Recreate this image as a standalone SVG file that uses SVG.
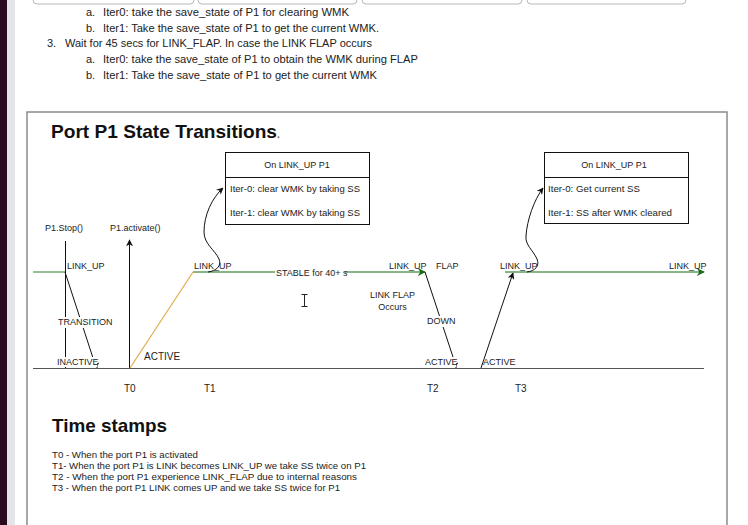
<svg xmlns="http://www.w3.org/2000/svg" width="748" height="525" viewBox="0 0 748 525">
<style>
.doc{font-family:"Liberation Sans",Arial,sans-serif;font-size:11px;fill:#222}
.lbl{font-family:"Liberation Sans",Arial,sans-serif;font-size:9px;fill:#222}
.lbl2{font-family:"Liberation Sans",Arial,sans-serif;font-size:10px;fill:#222}
.ttl{font-family:"Liberation Sans",Arial,sans-serif;font-size:19px;font-weight:bold;fill:#111}
.box{fill:#fff;stroke:#111;stroke-width:1}
.blk{fill:none;stroke:#111;stroke-width:1}
.grn{fill:none;stroke:#5e9c5e;stroke-width:1.3}
.org{fill:none;stroke:#e2ac48;stroke-width:1.2}
.base{fill:none;stroke:#555;stroke-width:1}
.tab{fill:#fff;stroke:#b8b8b8;stroke-width:1}
.bg{fill:#fff}
</style>
<defs>
<marker id="ab" viewBox="0 0 10 10" refX="9" refY="5" markerWidth="7" markerHeight="7" orient="auto" markerUnits="userSpaceOnUse"><path d="M0 0 L10 5 L0 10 L3 5 Z" fill="#111"/></marker>
<marker id="ag" viewBox="0 0 10 10" refX="9" refY="5" markerWidth="8" markerHeight="8" orient="auto" markerUnits="userSpaceOnUse"><path d="M0 0 L10 5 L0 10 L3 5 Z" fill="#1d6a1d"/></marker>
</defs>
<rect x="0" y="0" width="748" height="525" fill="#fff"/>
<rect x="0" y="0" width="7" height="525" fill="#2a0a1f"/>
<rect x="7" y="0" width="8" height="525" fill="#e4e5e9"/>
<g id="tabs">
<rect class="tab" x="33" y="-10" width="161" height="14" rx="4"/>
<rect class="tab" x="198" y="-10" width="159" height="14" rx="4"/>
<rect class="tab" x="362" y="-10" width="160" height="14" rx="4"/>
<rect class="tab" x="527" y="-10" width="159" height="14" rx="4"/>
</g>
<g id="doc-text" class="doc">
<text x="86" y="16">a.</text><text x="103" y="16" textLength="246" lengthAdjust="spacingAndGlyphs">Iter0: take the save_state of P1  for clearing WMK</text>
<text x="86" y="32">b.</text><text x="103" y="32" textLength="276" lengthAdjust="spacingAndGlyphs">Iter1: Take the save_state of P1 to get the current WMK.</text>
<text x="47" y="47">3.</text><text x="65" y="47" textLength="307" lengthAdjust="spacingAndGlyphs">Wait for  45 secs for LINK_FLAP. In case the LINK FLAP occurs</text>
<text x="86" y="63">a.</text><text x="103" y="63" textLength="315" lengthAdjust="spacingAndGlyphs">Iter0: take the save_state of P1  to obtain the WMK during FLAP</text>
<text x="86" y="79">b.</text><text x="103" y="79" textLength="274" lengthAdjust="spacingAndGlyphs">Iter1: Take the save_state of P1 to get the current WMK</text>
</g>
<rect x="27" y="112" width="700" height="430" fill="none" stroke="#8c8c8c" stroke-width="1.5"/>
<text class="ttl" x="51" y="138"><tspan textLength="226" lengthAdjust="spacingAndGlyphs">Port P1 State Transitions</tspan><tspan font-size="10" fill="#666">.</tspan></text>
<g id="box1">
<rect class="box" x="225.5" y="152.5" width="144" height="72"/>
<line class="blk" x1="225.5" y1="177.5" x2="369.5" y2="177.5"/>
<text class="lbl" x="297" y="168" text-anchor="middle">On LINK_UP P1</text>
<text class="lbl" x="230" y="192" textLength="130" lengthAdjust="spacingAndGlyphs">Iter-0: clear WMK by taking SS</text>
<text class="lbl" x="230" y="216" textLength="130" lengthAdjust="spacingAndGlyphs">Iter-1: clear WMK by taking SS</text>
</g>
<g id="box2">
<rect class="box" x="544.5" y="152.5" width="144" height="71"/>
<line class="blk" x1="544.5" y1="177.5" x2="688.5" y2="177.5"/>
<text class="lbl" x="614" y="168" text-anchor="middle">On LINK_UP P1</text>
<text class="lbl" x="548" y="192" textLength="92" lengthAdjust="spacingAndGlyphs">Iter-0: Get current SS</text>
<text class="lbl" x="548" y="216" textLength="124" lengthAdjust="spacingAndGlyphs">Iter-1: SS after WMK cleared</text>
</g>
<g id="connectors">
<line class="base" x1="33" y1="368.5" x2="704" y2="368.5"/>
<line class="grn" x1="33" y1="272" x2="65" y2="272"/>
<line class="blk" x1="65.5" y1="241" x2="65.5" y2="368"/>
<line class="blk" x1="65" y1="272" x2="93" y2="358"/>
<path class="blk" d="M97 368 L97 364 L99 363"/>
<line class="blk" x1="129.5" y1="368" x2="129.5" y2="240" marker-end="url(#ab)"/>
<line class="org" x1="130" y1="368" x2="193" y2="272"/>
<line class="grn" x1="193" y1="272" x2="425" y2="272" marker-end="url(#ag)"/>
<path class="blk" d="M208 272 C216 271 222 266 219 259 C215 250 204 244 204 232 C204 215 212 198 223 188" marker-end="url(#ab)"/>
<line class="blk" x1="425" y1="272" x2="454" y2="360"/>
<path class="blk" d="M456 368 L456 364 L458 363"/>
<line class="blk" x1="481" y1="368" x2="513" y2="273" marker-end="url(#ab)"/>
<line class="grn" x1="505" y1="272" x2="704" y2="272" marker-end="url(#ag)"/>
<path class="blk" d="M527 272 C535 271 540 266 537 259 C533 250 525 245 526 236 C527 220 534 200 543 188" marker-end="url(#ab)"/>
</g>
<g id="labels">
<text class="lbl" x="45" y="231">P1.Stop()</text>
<text class="lbl" x="110" y="231">P1.activate()</text>
<text class="lbl" x="67" y="269">LINK_UP</text>
<rect class="bg" x="57" y="317" width="55" height="11"/>
<text class="lbl" x="58" y="325">TRANSITION</text>
<rect class="bg" x="56" y="357" width="41" height="10"/>
<text class="lbl" x="57" y="365">INACTIVE</text>
<text class="lbl2" x="144" y="360">ACTIVE</text>
<text class="lbl" x="194" y="269">LINK_UP</text>
<rect class="bg" x="275" y="267" width="70" height="10"/>
<text class="lbl" x="276" y="276">STABLE for 40+ s</text>
<text class="lbl" x="389" y="269">LINK_UP</text>
<text class="lbl" x="436" y="269">FLAP</text>
<text class="lbl" x="392.5" y="298" text-anchor="middle">LINK FLAP</text>
<text class="lbl" x="392.5" y="310" text-anchor="middle">Occurs</text>
<rect class="bg" x="426" y="316" width="30" height="11"/>
<text class="lbl" x="427" y="324">DOWN</text>
<rect class="bg" x="424" y="357" width="32" height="10"/>
<text class="lbl" x="425" y="365">ACTIVE</text>
<text class="lbl" x="483" y="365">ACTIVE</text>
<text class="lbl" x="500" y="269">LINK_UP</text>
<text class="lbl" x="669" y="269">LINK_UP</text>
<text class="lbl2" x="124" y="392">T0</text>
<text class="lbl2" x="204" y="392">T1</text>
<text class="lbl2" x="427" y="392">T2</text>
<text class="lbl2" x="515" y="392">T3</text>
</g>
<g id="cursor" stroke="#222" stroke-width="1" fill="none">
<path d="M301.5 294.5 H307.5 M304.5 294.5 V306.5 M301.5 306.5 H307.5"/>
</g>
<g id="timestamps">
<text class="ttl" x="52" y="432" textLength="115" lengthAdjust="spacingAndGlyphs">Time stamps</text>
<text class="lbl" x="52" y="458" textLength="146" lengthAdjust="spacingAndGlyphs">T0 - When the port P1  is activated</text>
<text class="lbl" x="52" y="469" textLength="314" lengthAdjust="spacingAndGlyphs">T1- When the port P1  is LINK becomes LINK_UP we take SS twice on P1</text>
<text class="lbl" x="52" y="480" textLength="305" lengthAdjust="spacingAndGlyphs">T2 - When the port P1  experience LINK_FLAP due to internal  reasons</text>
<text class="lbl" x="52" y="491" textLength="288" lengthAdjust="spacingAndGlyphs">T3 - When the port P1  LINK comes UP and we take SS twice for P1</text>
</g>
</svg>
